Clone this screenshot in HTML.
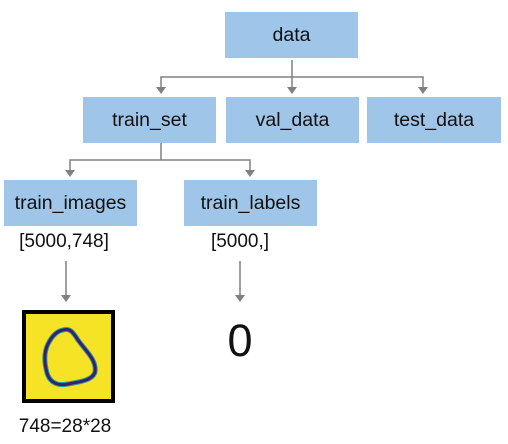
<!DOCTYPE html>
<html><head><style>
body{margin:0;width:508px;height:444px;background:#fff;position:relative;font-family:"Liberation Sans",sans-serif;overflow:hidden}
.b{position:absolute;background:#9fc5e8;height:46px;line-height:46px;text-align:center;font-size:19.5px;color:#111;width:133px}
.t{position:absolute;font-size:19px;color:#111;text-align:center;line-height:22px}
</style></head><body>
<div class="b" style="left:225px;top:12px">data</div>
<div class="b" style="left:83px;top:97px">train_set</div>
<div class="b" style="left:226px;top:97px">val_data</div>
<div class="b" style="left:367px;top:97px;width:134px">test_data</div>
<div class="b" style="left:4px;top:180px">train_images</div>
<div class="b" style="left:184px;top:180px">train_labels</div>
<svg width="508" height="444" style="position:absolute;left:0;top:0">
<g stroke="#808080" stroke-width="1.5" fill="none">
<path d="M292 60V88M161 88V77H423V88M161 143V160M70 171V160H250V171M66 261V296M240 261V296"/>
</g>
<g fill="#808080">
<path d="M287 87h10l-5 7zM156 87h10l-5 7zM418 87h10l-5 7zM65 170h10l-5 7zM245 170h10l-5 7zM61 295h10l-5 7zM235 295h10l-5 7z"/>
</g>
<rect x="24" y="312" width="89" height="89" fill="#f7e325" stroke="#000" stroke-width="4"/>
<path d="M63 330 C70 328 73 332 78 340 C85 350 97 360 95 372 C93 380 80 382 68 384 C58 386 50 383 47 373 C44 362 44 352 48 344 C52 336 57 331 63 330 Z" fill="none" stroke="#2f9c8f" stroke-width="5"/>
<path d="M63 330 C70 328 73 332 78 340 C85 350 97 360 95 372 C93 380 80 382 68 384 C58 386 50 383 47 373 C44 362 44 352 48 344 C52 336 57 331 63 330 Z" fill="none" stroke="#3b1e6e" stroke-width="3"/>
</svg>
<div class="t" style="left:4px;width:120px;top:231px">[5000,748]</div>
<div class="t" style="left:190px;width:100px;top:231px">[5000,]</div>
<div class="t" style="left:190px;width:100px;top:318px;font-size:45px;line-height:45px">0</div>
<div class="t" style="left:5px;width:120px;top:416px">748=28*28</div>
</body></html>
